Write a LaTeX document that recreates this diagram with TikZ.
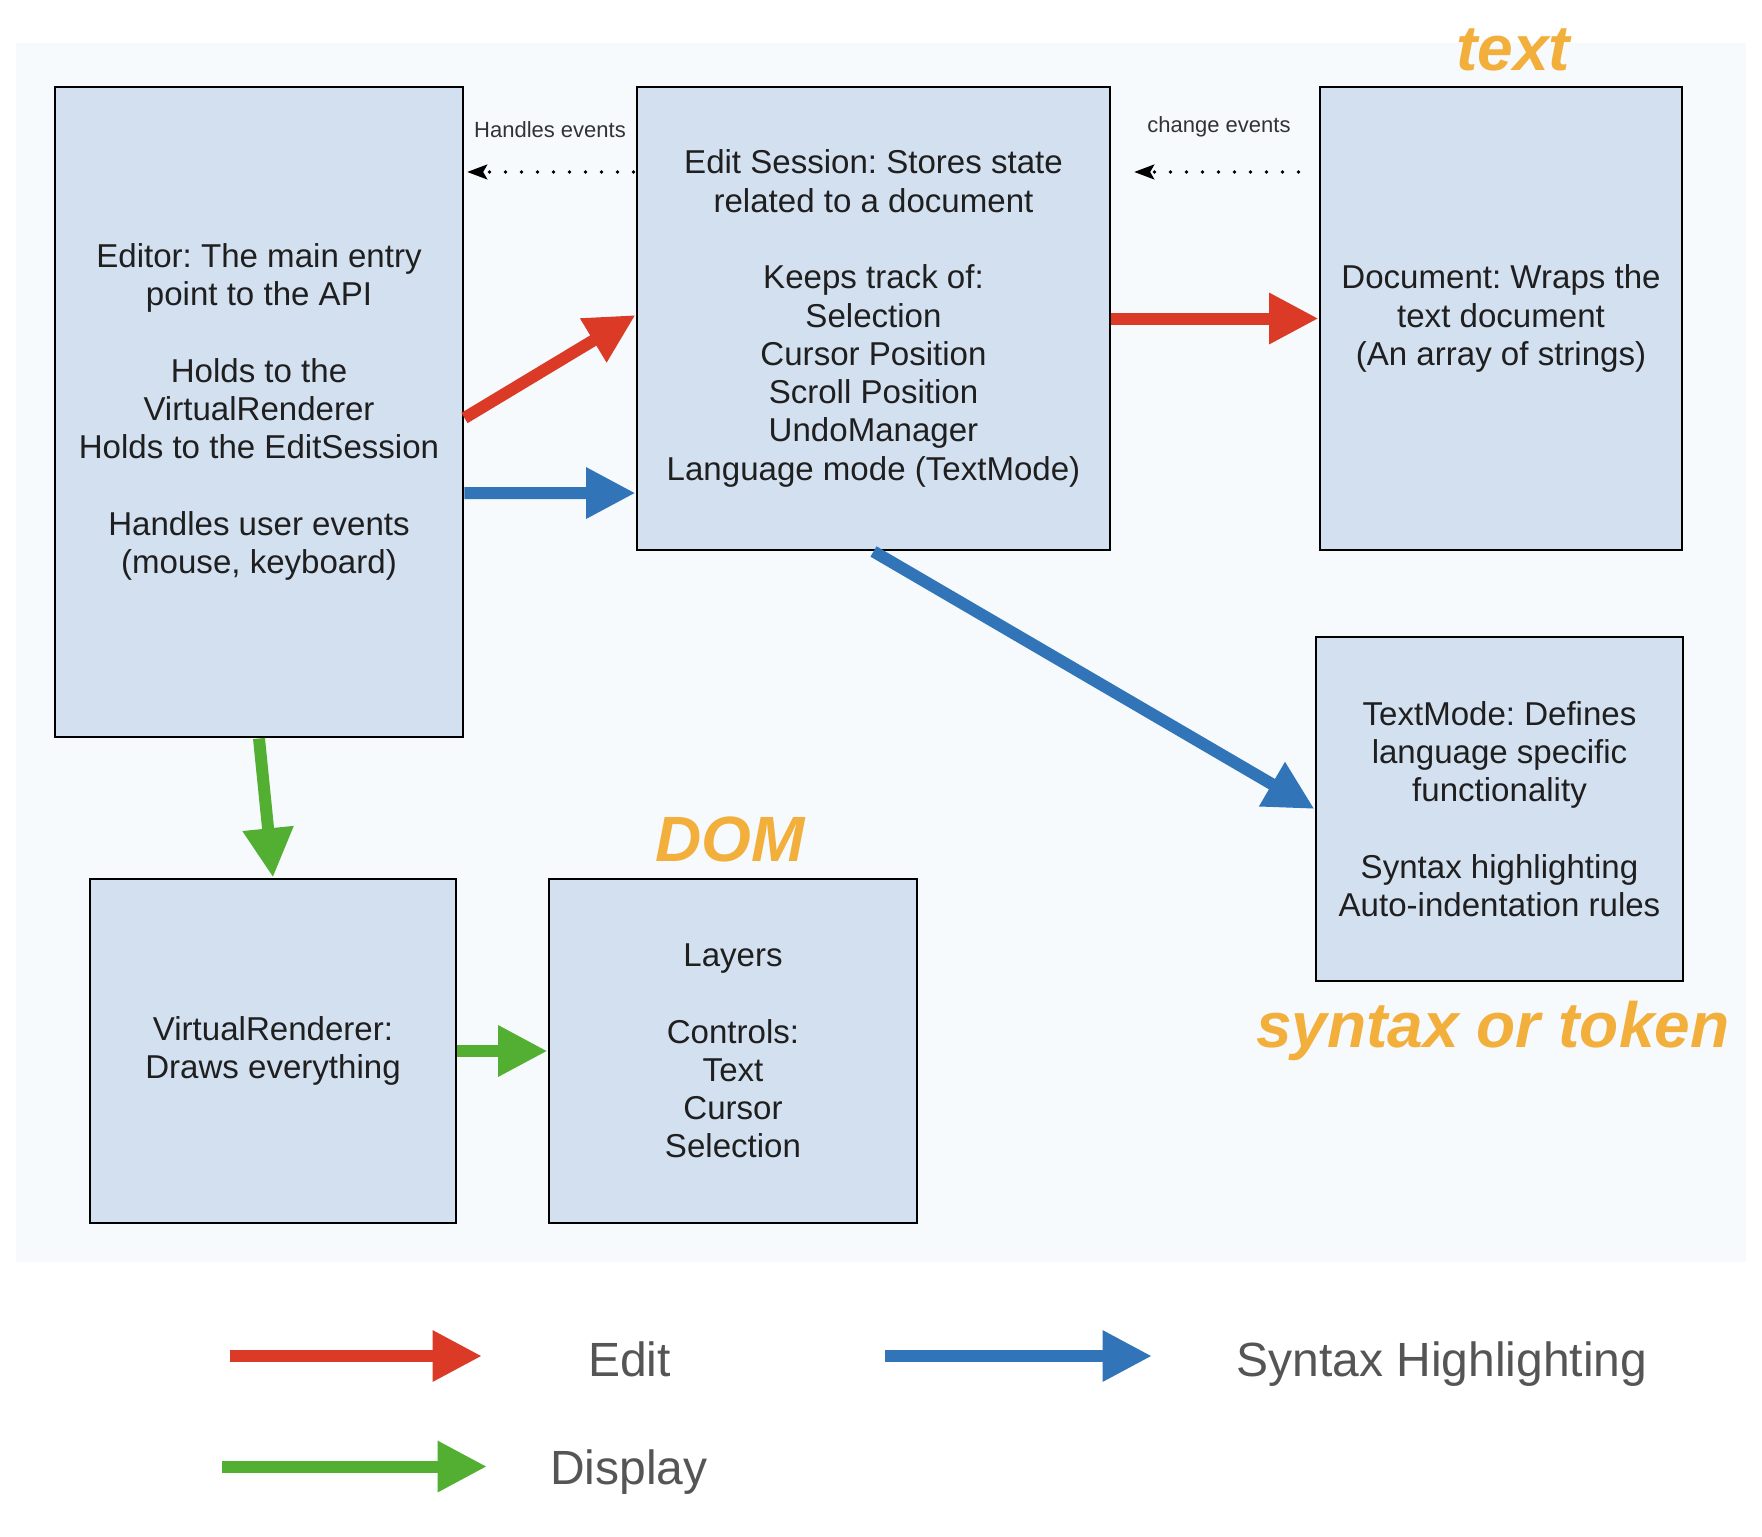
\documentclass[tikz,border=0pt]{standalone}
\usepackage{fontspec}
\setmainfont{Liberation Sans}
\usepackage{xcolor}
\usetikzlibrary{arrows.meta,positioning}
\frenchspacing

\definecolor{boxfill}{RGB}{211,224,240}
\definecolor{panelbg}{RGB}{246,250,253}
\definecolor{editred}{RGB}{219,58,39}
\definecolor{synblue}{RGB}{49,116,184}
\definecolor{disgreen}{RGB}{82,175,50}
\definecolor{tagorange}{RGB}{242,175,59}
\definecolor{legendgray}{RGB}{85,85,85}

\tikzset{
  block/.style={draw=black, line width=2.2pt, fill=boxfill, text=black!88, align=center, inner sep=0pt, font=\fontsize{24.8}{28.7}\selectfont},
  evtlbl/.style={inner sep=0pt, text=black!80, font=\fontsize{16.5}{19}\selectfont},
  evtline/.style={line width=2.8pt, dash pattern=on 0pt off 12pt, line cap=round, -{Stealth[length=15pt,width=11pt,inset=3pt]}},
  fat/.style={line width=9pt, -{Triangle[length=37pt,width=36pt]}},
  editarr/.style={fat, color=editred},
  synarr/.style={fat, color=synblue},
  disarr/.style={fat, color=disgreen},
  tag/.style={inner sep=0pt, text=tagorange, font=\fontsize{48}{56}\selectfont\bfseries\itshape},
  legendlbl/.style={inner sep=0pt, text=legendgray, font=\fontsize{36}{42}\selectfont},
}

\begin{document}
\begin{tikzpicture}[x=0.75pt,y=-0.75pt]
\useasboundingbox (0,0) rectangle (1762,1536);
\fill[white] (0,0) rectangle (1762,1536);
%Panel
\fill[panelbg] (16,43) rectangle (1746,1262);

% Text Node
\node[block, minimum width=306pt, minimum height=487.5pt] (editor) at (259,412) {Editor: The main entry\\ point to the API\\[28.7pt] Holds to the\\ VirtualRenderer\\ Holds to the EditSession\\[28.7pt] Handles user events\\ (mouse, keyboard)};
% Text Node
\node[block, minimum width=354.75pt, minimum height=347.25pt] (es) at (873.5,318.5) {Edit Session: Stores state\\ related to a document\\[28.7pt] Keeps track of:\\ Selection\\ Cursor Position\\ Scroll Position\\ UndoManager\\ Language mode (TextMode)};
% Text Node
\node[block, minimum width=271.5pt, minimum height=347.25pt] (doc) at (1501,318.5) {Document: Wraps the\\ text document\\ (An array of strings)};
% Text Node
\node[block, minimum width=275.25pt, minimum height=258pt] (tm) at (1499.5,809) {TextMode: Defines\\ language specific\\ functionality\\[28.7pt] Syntax highlighting\\ Auto-indentation rules};
% Text Node
\node[block, minimum width=274.5pt, minimum height=258pt] (vr) at (273,1051) {VirtualRenderer:\\ Draws everything};
% Text Node
\node[block, minimum width=276pt, minimum height=258pt] (layers) at (733,1051) {Layers\\[28.7pt] Controls:\\ Text\\ Cursor\\ Selection};

% Tags
\node[tag, above=10.9pt of doc.north, xshift=9pt] (textTag) {text};
\node[tag, above=11.2pt of layers.north, xshift=-2pt] (domTag) {DOM};
\node[tag, below=13.5pt of tm.south, xshift=-5pt] (tokenTag) {syntax or token};

%Dotted Lines
\coordinate (hA) at ([yshift=109.9pt]es.west);
\draw[evtline, shorten <=1.5pt, shorten >=2pt] (hA) -- (hA -| editor.east) node[evtlbl, midway, above=24.5pt] (hLbl) {Handles events};
\coordinate (cA) at ([yshift=109.9pt]doc.west);
\draw[evtline, shorten <=15pt, shorten >=17pt] (cA) -- (cA -| es.east) node[evtlbl, midway, above=24.5pt, xshift=3pt] (cLbl) {change events};

%Straight Lines
\draw[editarr] ([yshift=-4.5pt]editor.east) -- ([yshift=2.6pt]es.west);
\draw[synarr] ([yshift=-60.75pt]editor.east) -- ([yshift=-130.9pt]es.west);
\draw[editarr] (es.east) -- (doc.west);
\draw[synarr] (es.south) -- (tm.west);
\draw[disarr] (editor.south) -- (vr.north);
\draw[disarr] (vr.east) -- (layers.west);

%Legend
\coordinate (editA) at (230,1356);
\coordinate (editB) at (482,1356);
\draw[editarr] (editA) -- (editB);
\node[legendlbl, anchor=base] (editLbl) at (629.5,1376) {Edit};
\coordinate (synA) at (885,1356);
\coordinate (synB) at (1152,1356);
\draw[synarr] (synA) -- (synB);
\node[legendlbl, anchor=base] (synLbl) at (1442,1376) {Syntax Highlighting};
\coordinate (disA) at (222,1466.5);
\coordinate (disB) at (487,1466.5);
\draw[disarr] (disA) -- (disB);
\node[legendlbl, anchor=base] (disLbl) at (629,1484) {Display};

\end{tikzpicture}
\end{document}
